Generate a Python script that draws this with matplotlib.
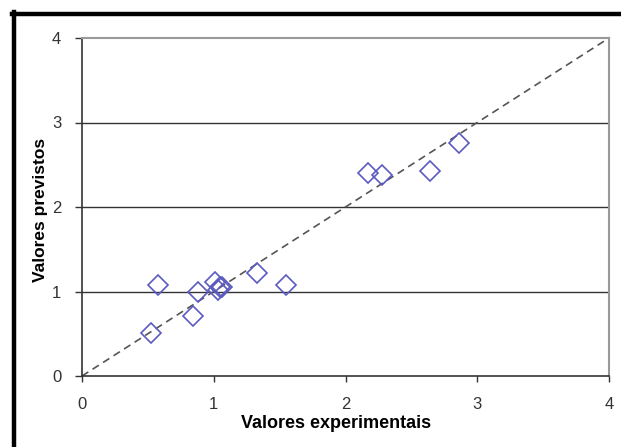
import matplotlib
matplotlib.use("Agg")
import matplotlib.pyplot as plt
from matplotlib.lines import Line2D

plt.rcParams['font.family'] = ['Liberation Sans', 'DejaVu Sans']

x_exp = [0.52, 0.58, 0.88, 0.84, 1.01, 1.05, 1.03, 1.06, 1.33, 1.55, 2.17, 2.28, 2.64, 2.86]
y_prev = [0.51, 1.08, 0.99, 0.71, 1.11, 1.05, 1.02, 1.05, 1.22, 1.08, 2.40, 2.38, 2.43, 2.76]
ticks = [0, 1, 2, 3, 4]
ref_line = [0, 4]

fig = plt.figure(figsize=(6.21, 4.47), dpi=100)
ax = fig.add_axes([82/621, 71/447, 527/621, 338/447])

for yv in [1, 2, 3]:
    ax.axhline(yv, color='#333333', lw=1.0, zorder=1)

ax.plot(ref_line, ref_line, linestyle=(0, (4.5, 3)), color='#555555', lw=1.2, zorder=2)
ax.plot(x_exp, y_prev, linestyle='none', marker='D', markersize=10.5,
        markerfacecolor='none', markeredgecolor='#5a5ac0', markeredgewidth=1.2, zorder=3)

ax.set_xlim(0, 4)
ax.set_ylim(0, 4)
ax.set_xticks(ticks)
ax.set_yticks(ticks)
ax.set_xticklabels([str(t) for t in ticks], fontsize=12, color='#333333')
ax.set_yticklabels([str(t) for t in ticks], fontsize=12, color='#333333')
ax.tick_params(axis='x', direction='out', length=4, width=1, color='#333333', pad=11)
ax.tick_params(axis='y', direction='out', length=5, width=1, color='#333333', pad=10)

for s in ['left', 'bottom']:
    ax.spines[s].set_color('#333333')
    ax.spines[s].set_linewidth(1.2)
for s in ['top', 'right']:
    ax.spines[s].set_color('#999999')
    ax.spines[s].set_linewidth(1.5)

ax.set_xlabel('Valores experimentais', fontsize=13, fontweight='bold')
ax.xaxis.set_label_coords(0.482, -0.115)
ax.set_ylabel('Valores previstos', fontsize=12.5, fontweight='bold')
ax.yaxis.set_label_coords(-0.064, 0.49)

# thick outer frame (left and top)
fig.add_artist(Line2D([13.5/621, 13.5/621], [0, 1 - 12/447], transform=fig.transFigure,
                      color='black', lw=3.2, solid_capstyle='projecting'))
fig.add_artist(Line2D([12/621, 1], [1 - 13.5/447, 1 - 13.5/447], transform=fig.transFigure,
                      color='black', lw=3.2, solid_capstyle='projecting'))

fig.savefig('out.png', dpi=100)
